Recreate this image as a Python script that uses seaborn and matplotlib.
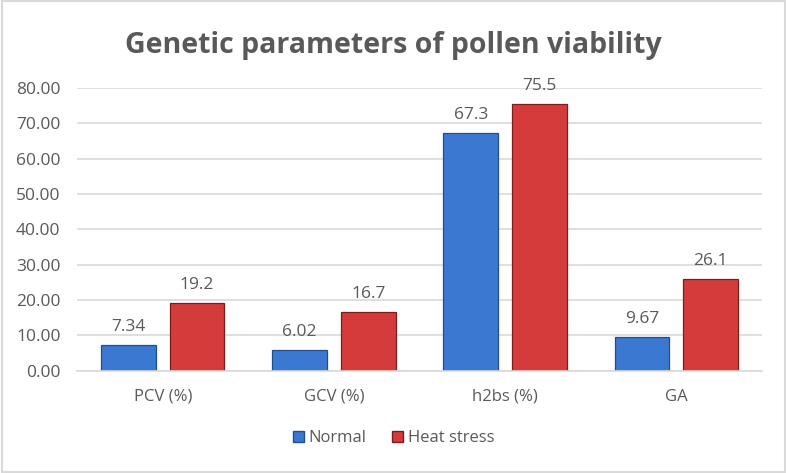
import pandas as pd
import matplotlib.pyplot as plt
import seaborn as sns
from matplotlib.patches import Rectangle

categories = ['PCV (%)', 'GCV (%)', 'h2bs (%)', 'GA']
normal = [7.34, 6.02, 67.3, 9.67]
heat_stress = [19.2, 16.7, 75.5, 26.1]
normal_labels = ['7.34', '6.02', '67.3', '9.67']
heat_labels = ['19.2', '16.7', '75.5', '26.1']

df = pd.DataFrame({
    'Parameter': categories * 2,
    'Value': normal + heat_stress,
    'Group': ['Normal'] * 4 + ['Heat stress'] * 4,
})

sns.set_style('white')
plt.rcParams['font.family'] = ['Open Sans', 'DejaVu Sans']

text_color = '#595959'
colors = {'Normal': '#3a78d2', 'Heat stress': '#d43b3b'}
edges = {'Normal': '#1f4f8f', 'Heat stress': '#7e1c1c'}

fig = plt.figure(figsize=(7.87, 4.73), dpi=100)
ax = fig.add_axes([0.098, 0.216, 0.870, 0.598])

sns.barplot(data=df, x='Parameter', y='Value', hue='Group', palette=colors, saturation=1,
            width=0.8, gap=0.2, ax=ax, legend=False, errorbar=None)

for container, grp, labels in zip(ax.containers, ['Normal', 'Heat stress'],
                                  [normal_labels, heat_labels]):
    for bar in container:
        bar.set_edgecolor(edges[grp])
        bar.set_linewidth(0.9)
    ax.bar_label(container, labels=labels, padding=7, fontsize=12.5, color=text_color)

ax.set_ylim(0, 80)
ax.set_yticks(range(0, 81, 10))
ax.set_yticklabels([f'{v:.2f}' for v in range(0, 81, 10)])
ax.yaxis.grid(True, color='#d9d9d9', linewidth=1.2)
ax.set_axisbelow(True)
for s in ['top', 'right', 'left']:
    ax.spines[s].set_visible(False)
ax.spines['bottom'].set_color('#d9d9d9')
ax.spines['bottom'].set_linewidth(1.2)
ax.tick_params(axis='y', length=0, labelsize=12.5, colors=text_color, pad=12)
ax.tick_params(axis='x', length=0, labelsize=12, colors=text_color, pad=13)
ax.set_xlabel('')
ax.set_ylabel('')

handles = [Rectangle((0, 0), 1, 1, facecolor=colors[g], edgecolor=edges[g]) for g in ['Normal', 'Heat stress']]
fig.legend(handles, ['Normal', 'Heat stress'], loc='center', bbox_to_anchor=(0.5, 0.074),
           ncol=2, frameon=False, fontsize=12, labelcolor=text_color,
           handlelength=0.65, handleheight=0.65, handletextpad=0.3, columnspacing=1.5)

fig.text(0.5, 0.903, 'Genetic parameters of pollen viability', ha='center', va='center',
         fontsize=20.5, fontweight='bold', color=text_color)

fig.patches.append(Rectangle((0.003, 0.003), 0.994, 0.994, transform=fig.transFigure,
                             fill=False, edgecolor='#d9d9d9', linewidth=1.5))

plt.savefig('out.png', dpi=100)
